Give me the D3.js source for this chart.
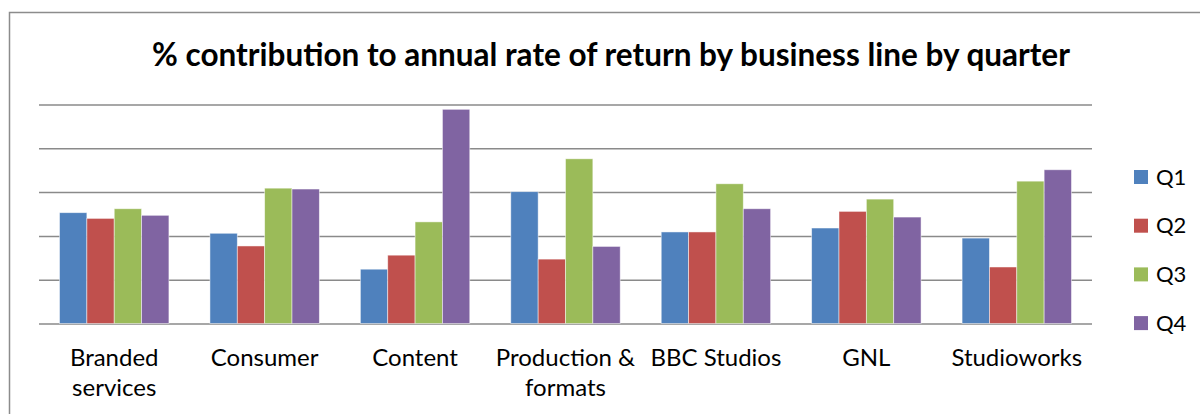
<!DOCTYPE html>
<html lang="en">
<head>
  <meta charset="UTF-8">
  <script src="https://cdnjs.cloudflare.com/ajax/libs/d3/7.8.5/d3.min.js"></script>
  <style>
    body { margin: 0; background: #fff; }
    svg { display: block; font-family: Lato, "Open Sans", sans-serif; }
    .grid line { stroke: #8a8a8a; stroke-width: 1.5; }
    .grid path { display: none; }
  </style>
  <title></title>
</head>
<body>
  <script>
    const categories = ["Branded services", "Consumer", "Content", "Production & formats", "BBC Studios", "GNL", "Studioworks"];
    const quarters = ["Q1", "Q2", "Q3", "Q4"];
    const q1 = [2.53, 2.06, 1.24, 3.01, 2.09, 2.18, 1.95];
    const q2 = [2.40, 1.77, 1.56, 1.47, 2.09, 2.56, 1.29];
    const q3 = [2.62, 3.09, 2.32, 3.76, 3.19, 2.84, 3.25];
    const q4 = [2.47, 3.07, 4.89, 1.76, 2.62, 2.43, 3.51];
    const gridTicks = [0, 1, 2, 3, 4, 5];
    const colors = ["#4f81bd", "#c0504d", "#9bbb59", "#8064a2"];
    const title = "% contribution to annual rate of return by business line by quarter";

    const series = [q1, q2, q3, q4];
    const w = 1200;
    const h = 414;
    const plotLeft = 39, plotRight = 1092, plotTop = 104.5, plotBottom = 323.5;

    const svg = d3.select("body")
      .append("svg")
      .attr("width", w)
      .attr("height", h);

    // chart frame (runs off the picture on the right and bottom)
    svg.append("rect")
      .attr("x", 9.5).attr("y", 12.5)
      .attr("width", 1250).attr("height", 450)
      .attr("fill", "none")
      .attr("stroke", "#8c8c8c")
      .attr("stroke-width", 1.5);

    const t = svg.append("text")
      .attr("x", 611)
      .attr("y", 66)
      .attr("text-anchor", "middle")
      .attr("font-weight", "bold")
      .attr("font-size", 27)
      .attr("fill", "#000")
      .text(title);
    // fit title to the width seen in the reference
    const tw = t.node().getComputedTextLength();
    t.attr("font-size", 27 * 918 / tw);

    const x0 = d3.scaleBand()
      .domain(categories)
      .range([plotLeft, plotRight])
      .paddingInner(0.2727)
      .paddingOuter(0.1364);

    const x1 = d3.scaleBand()
      .domain(quarters)
      .range([0, x0.bandwidth()]);

    const y = d3.scaleLinear()
      .domain([0, 5])
      .range([plotBottom, plotTop]);

    svg.append("g")
      .attr("class", "grid")
      .attr("transform", "translate(" + plotLeft + ",0)")
      .call(d3.axisLeft(y).tickValues(gridTicks).tickSize(-(plotRight - plotLeft)).tickFormat(""));

    const groups = svg.selectAll(".group")
      .data(categories)
      .enter()
      .append("g")
      .attr("class", "group")
      .attr("transform", d => "translate(" + x0(d) + ",0)");

    groups.selectAll("rect")
      .data((d, i) => quarters.map((q, j) => ({ q: q, v: series[j][i], j: j })))
      .enter()
      .append("rect")
      .attr("x", d => x1(d.q))
      .attr("y", d => y(d.v))
      .attr("width", x1.bandwidth())
      .attr("height", d => y(0) - y(d.v))
      .attr("fill", d => colors[d.j])
      .attr("stroke", "rgba(255,255,255,0.6)")
      .attr("stroke-width", 0.8);

    // category labels, wrapped to the band step like the reference
    const labelSize = 24;
    const step = x0.step();
    categories.forEach(c => {
      const cx = x0(c) + x0.bandwidth() / 2;
      const words = c.split(" ");
      const lines = [];
      let line = "";
      const probe = svg.append("text").attr("font-size", labelSize);
      words.forEach(wd => {
        const tryLine = line ? line + " " + wd : wd;
        probe.text(tryLine);
        if (line && probe.node().getComputedTextLength() > step - 2) {
          lines.push(line);
          line = wd;
        } else {
          line = tryLine;
        }
      });
      lines.push(line);
      probe.remove();
      lines.forEach((ln, k) => {
        svg.append("text")
          .attr("x", cx)
          .attr("y", 366 + k * 30)
          .attr("text-anchor", "middle")
          .attr("font-size", labelSize)
          .attr("fill", "#000")
          .text(ln);
      });
    });

    const legend = svg.selectAll(".legend")
      .data(quarters)
      .enter()
      .append("g")
      .attr("class", "legend")
      .attr("transform", (d, i) => "translate(1134," + (170 + i * 48.7) + ")");

    legend.append("rect")
      .attr("width", 14)
      .attr("height", 14)
      .attr("fill", (d, i) => colors[i]);

    legend.append("text")
      .attr("x", 22)
      .attr("y", 14.5)
      .attr("font-size", 22)
      .attr("fill", "#000")
      .text(d => d);
  </script>
</body>
</html>
